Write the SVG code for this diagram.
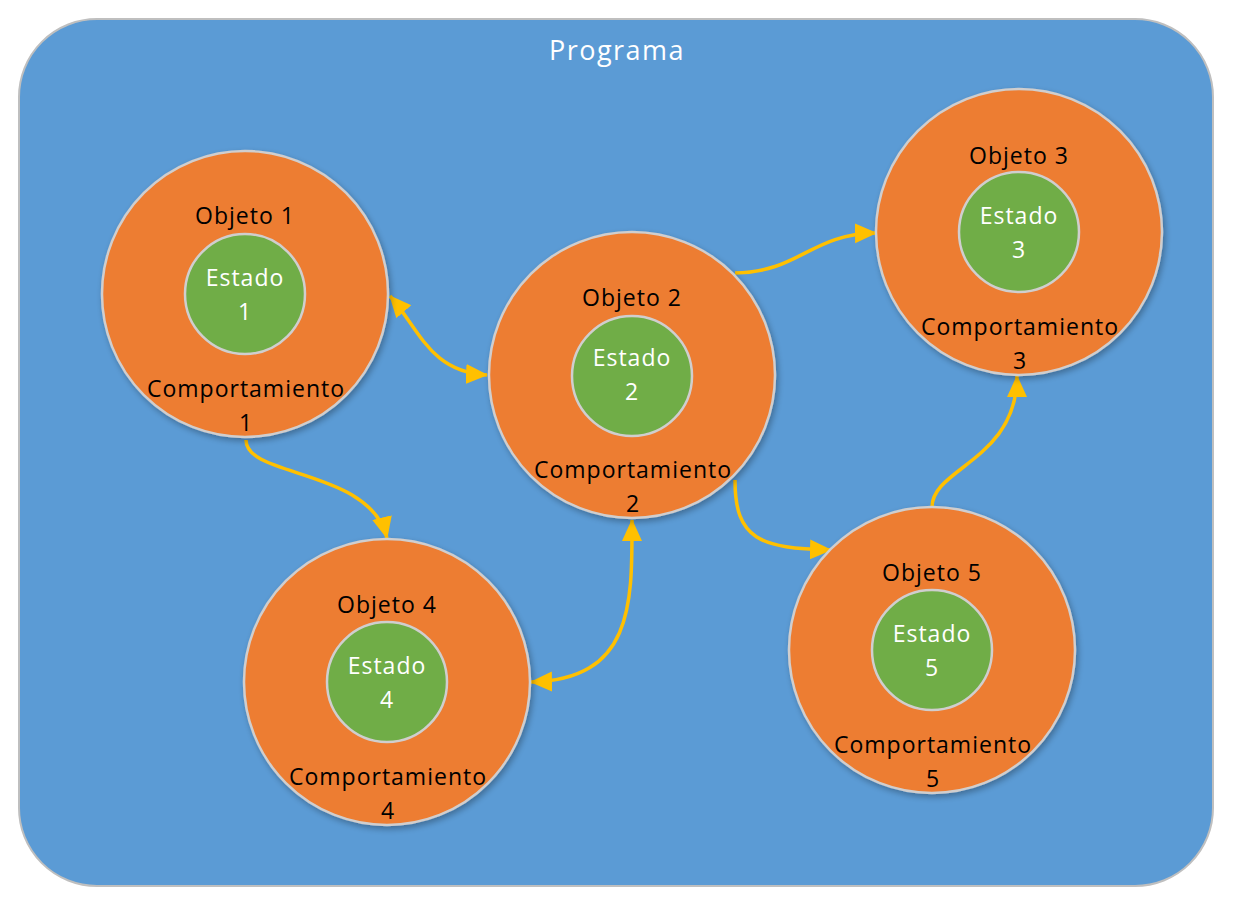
<svg xmlns="http://www.w3.org/2000/svg" width="1242" height="904" viewBox="0 0 1242 904">
<style>
.bg{fill:#5b9bd5;stroke:#bfbfbf;stroke-width:2}
.outer{fill:#ed7d31;stroke:#d0cece;stroke-width:2.5}
.inner{fill:#70ad47;stroke:#d0cece;stroke-width:2.5}
text{font-family:"Open Sans","Liberation Sans",sans-serif;font-size:23px;text-anchor:middle;letter-spacing:1px}
.dark{fill:#000}
.light{fill:#fff}
.title{font-size:27px;fill:#fff;letter-spacing:1.5px}
.conn{fill:none;stroke:#ffc000;stroke-width:3.5}
</style>
<defs>
<marker id="ah" markerUnits="userSpaceOnUse" markerWidth="22" markerHeight="22" viewBox="0 0 22 22" refX="21" refY="11" orient="auto-start-reverse">
<path d="M0,1 L22,11 L0,21 Z" fill="#ffc000"/>
</marker>
<filter id="sh" x="-10%" y="-10%" width="125%" height="125%">
<feGaussianBlur in="SourceAlpha" stdDeviation="3"/>
<feOffset dx="2" dy="3"/>
<feComponentTransfer><feFuncA type="linear" slope="0.3"/></feComponentTransfer>
<feMerge><feMergeNode/><feMergeNode in="SourceGraphic"/></feMerge>
</filter>
</defs>
<rect class="bg" x="19" y="19" width="1194" height="867" rx="78" ry="78"/>
<text class="title" x="617" y="60">Programa</text>

<g id="connectors">
<path class="conn" d="M390,296 C420,330 430,372 487,375" marker-start="url(#ah)" marker-end="url(#ah)"/>
<path class="conn" d="M246,440 C246,478 370,468 387,538" marker-end="url(#ah)"/>
<path class="conn" d="M632,520 C632,600 635,680 531,682" marker-start="url(#ah)" marker-end="url(#ah)"/>
<path class="conn" d="M735,273 C800,272 810,234 876,233" marker-end="url(#ah)"/>
<path class="conn" d="M735,480 C735,540 760,548 831,550" marker-end="url(#ah)"/>
<path class="conn" d="M932,507 C932,468 1017,460 1017,376" marker-end="url(#ah)"/>
</g>

<g id="objeto1">
<circle class="outer" cx="245" cy="294" r="143" filter="url(#sh)"/>
<circle class="inner" cx="245" cy="294" r="60"/>
<text class="dark" x="245" y="224">Objeto 1</text>
<text class="light" x="245" y="286">Estado</text>
<text class="light" x="245" y="320">1</text>
<text class="dark" x="246" y="397">Comportamiento</text>
<text class="dark" x="246" y="431">1</text>
</g>

<g id="objeto2">
<circle class="outer" cx="632" cy="375" r="143" filter="url(#sh)"/>
<circle class="inner" cx="632" cy="376" r="60"/>
<text class="dark" x="632" y="306">Objeto 2</text>
<text class="light" x="632" y="366">Estado</text>
<text class="light" x="632" y="400">2</text>
<text class="dark" x="633" y="478">Comportamiento</text>
<text class="dark" x="633" y="512">2</text>
</g>

<g id="objeto3">
<circle class="outer" cx="1019" cy="232" r="143" filter="url(#sh)"/>
<circle class="inner" cx="1019" cy="232" r="60"/>
<text class="dark" x="1019" y="164">Objeto 3</text>
<text class="light" x="1019" y="224">Estado</text>
<text class="light" x="1019" y="258">3</text>
<text class="dark" x="1020" y="335">Comportamiento</text>
<text class="dark" x="1020" y="369">3</text>
</g>

<g id="objeto4">
<circle class="outer" cx="387" cy="682" r="143" filter="url(#sh)"/>
<circle class="inner" cx="387" cy="682" r="60"/>
<text class="dark" x="387" y="613">Objeto 4</text>
<text class="light" x="387" y="674">Estado</text>
<text class="light" x="387" y="708">4</text>
<text class="dark" x="388" y="785">Comportamiento</text>
<text class="dark" x="388" y="819">4</text>
</g>

<g id="objeto5">
<circle class="outer" cx="932" cy="650" r="143" filter="url(#sh)"/>
<circle class="inner" cx="932" cy="650" r="60"/>
<text class="dark" x="932" y="581">Objeto 5</text>
<text class="light" x="932" y="642">Estado</text>
<text class="light" x="932" y="676">5</text>
<text class="dark" x="933" y="753">Comportamiento</text>
<text class="dark" x="933" y="787">5</text>
</g>
</svg>
